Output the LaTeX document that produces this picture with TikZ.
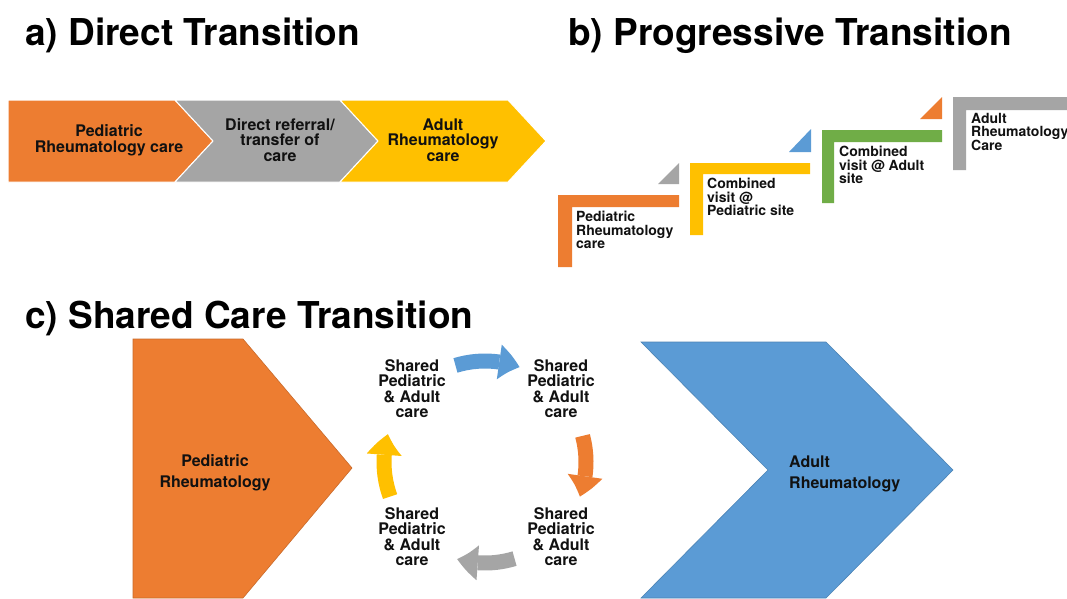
\documentclass[tikz,border=0pt]{standalone}
\usepackage{fontspec}
\setmainfont{TeX Gyre Heros}
\usetikzlibrary{arrows.meta,bending}
\definecolor{cOrange}{HTML}{ED7D31}
\definecolor{cGray}{HTML}{A5A5A5}
\definecolor{cYellow}{HTML}{FFC000}
\definecolor{cBlue}{HTML}{5B9BD5}
\definecolor{cGreen}{HTML}{70AD47}
\definecolor{txt}{HTML}{111111}
\begin{document}
\begin{tikzpicture}[x=1pt,y=-1pt,
  title/.style={font=\fontsize{37}{40}\selectfont\bfseries, anchor=base west, inner sep=0, text=black},
  lbl/.style={font=\fontsize{16}{15.5}\selectfont\bfseries, align=center, text=txt, inner sep=0},
  biglbl/.style={font=\fontsize{16}{21}\selectfont\bfseries, text=txt, inner sep=0},
  smalllbl/.style={font=\fontsize{14}{13.5}\selectfont\bfseries, align=left, anchor=north west, text=txt, inner sep=0},
  chev/.style={draw=white, line width=1pt},
  cyc/.style={line width=15pt, -{Triangle[width=35pt,length=21pt,line width=0pt,bend]}}
]
\useasboundingbox[fill=white] (0,0) rectangle (1067,598);

% titles
\node[title] (ta) at (25,45) {a) Direct Transition};
\node[title] (tb) at (568,45) {b) Progressive Transition};
\node[title] (tc) at (25,328) {c) Shared Care Transition};

% ---------- a) ----------
\fill[cOrange, chev] (8,100) -- (175,100) -- (213,141) -- (175,182) -- (8,182) -- cycle;
\fill[cGray, chev] (175,100) -- (340,100) -- (378,141) -- (340,182) -- (175,182) -- (213,141) -- cycle;
\fill[cYellow, chev] (340,100) -- (508,100) -- (546,141) -- (508,182) -- (340,182) -- (378,141) -- cycle;
\node[lbl, font=\fontsize{16}{16}\selectfont\bfseries] (a1) at (109,140) {Pediatric\\Rheumatology care};
\node[lbl] (a2) at (280,140) {Direct referral/\\transfer of\\care};
\node[lbl] (a3) at (443,140) {Adult\\Rheumatology\\care};

% ---------- b) ----------
\fill[cOrange] (558,195) -- (679,195) -- (679,207) -- (572,207) -- (572,267) -- (558,267) -- cycle;
\fill[cYellow] (690,163) -- (810,163) -- (810,174) -- (703,174) -- (703,235) -- (690,235) -- cycle;
\fill[cGreen] (822,130) -- (942,130) -- (942,142) -- (834,142) -- (834,203) -- (822,203) -- cycle;
\fill[cGray] (953,97) -- (1067,97) -- (1067,110) -- (966,110) -- (966,170) -- (953,170) -- cycle;
\fill[cGray] (658,184) -- (679,184) -- (679,163) -- cycle;
\fill[cBlue] (789,152) -- (811,152) -- (811,129) -- cycle;
\fill[cOrange] (920,119) -- (942,119) -- (942,97) -- cycle;
\node[smalllbl] (b1) at (576,211) {Pediatric\\Rheumatology\\care};
\node[smalllbl] (b2) at (707,178) {Combined\\visit @\\Pediatric site};
\node[smalllbl] (b3) at (839,146) {Combined\\visit @ Adult\\site};
\node[smalllbl] (b4) at (971,113) {Adult\\Rheumatology\\Care};

% ---------- c) ----------
\fill[cOrange, draw=cOrange!85!black, line width=0.6pt] (133,339) -- (243,339) -- (352,468) -- (243,598) -- (133,598) -- cycle;
\fill[cBlue, draw=cBlue!85!black, line width=0.6pt] (641,342) -- (826,342) -- (953,470) -- (826,598) -- (641,598) -- (768,470) -- cycle;
\node[biglbl, align=center, anchor=north] (c1) at (215,454) {Pediatric\\Rheumatology};
\node[biglbl, align=left, anchor=north west] (c2) at (789,456) {Adult\\Rheumatology};

\node[lbl, anchor=north] (s1) at (412,359) {Shared\\Pediatric\\\& Adult\\care};
\node[lbl, anchor=north] (s2) at (561,359) {Shared\\Pediatric\\\& Adult\\care};
\node[lbl, anchor=north] (s3) at (561,507) {Shared\\Pediatric\\\& Adult\\care};
\node[lbl, anchor=north] (s4) at (412,507) {Shared\\Pediatric\\\& Adult\\care};

\coordinate (cc) at (485,462);
\draw[cyc, cBlue]   ([shift={(-107:101)}]cc) arc[start angle=-107, end angle=-70, radius=101];
\draw[cyc, cOrange] ([shift={(-15:101)}]cc) arc[start angle=-15, end angle=20, radius=101];
\draw[cyc, cGray]   ([shift={(73:101)}]cc) arc[start angle=73, end angle=106, radius=101];
\draw[cyc, cYellow] ([shift={(160:101)}]cc) arc[start angle=160, end angle=196, radius=101];
\end{tikzpicture}
\end{document}
